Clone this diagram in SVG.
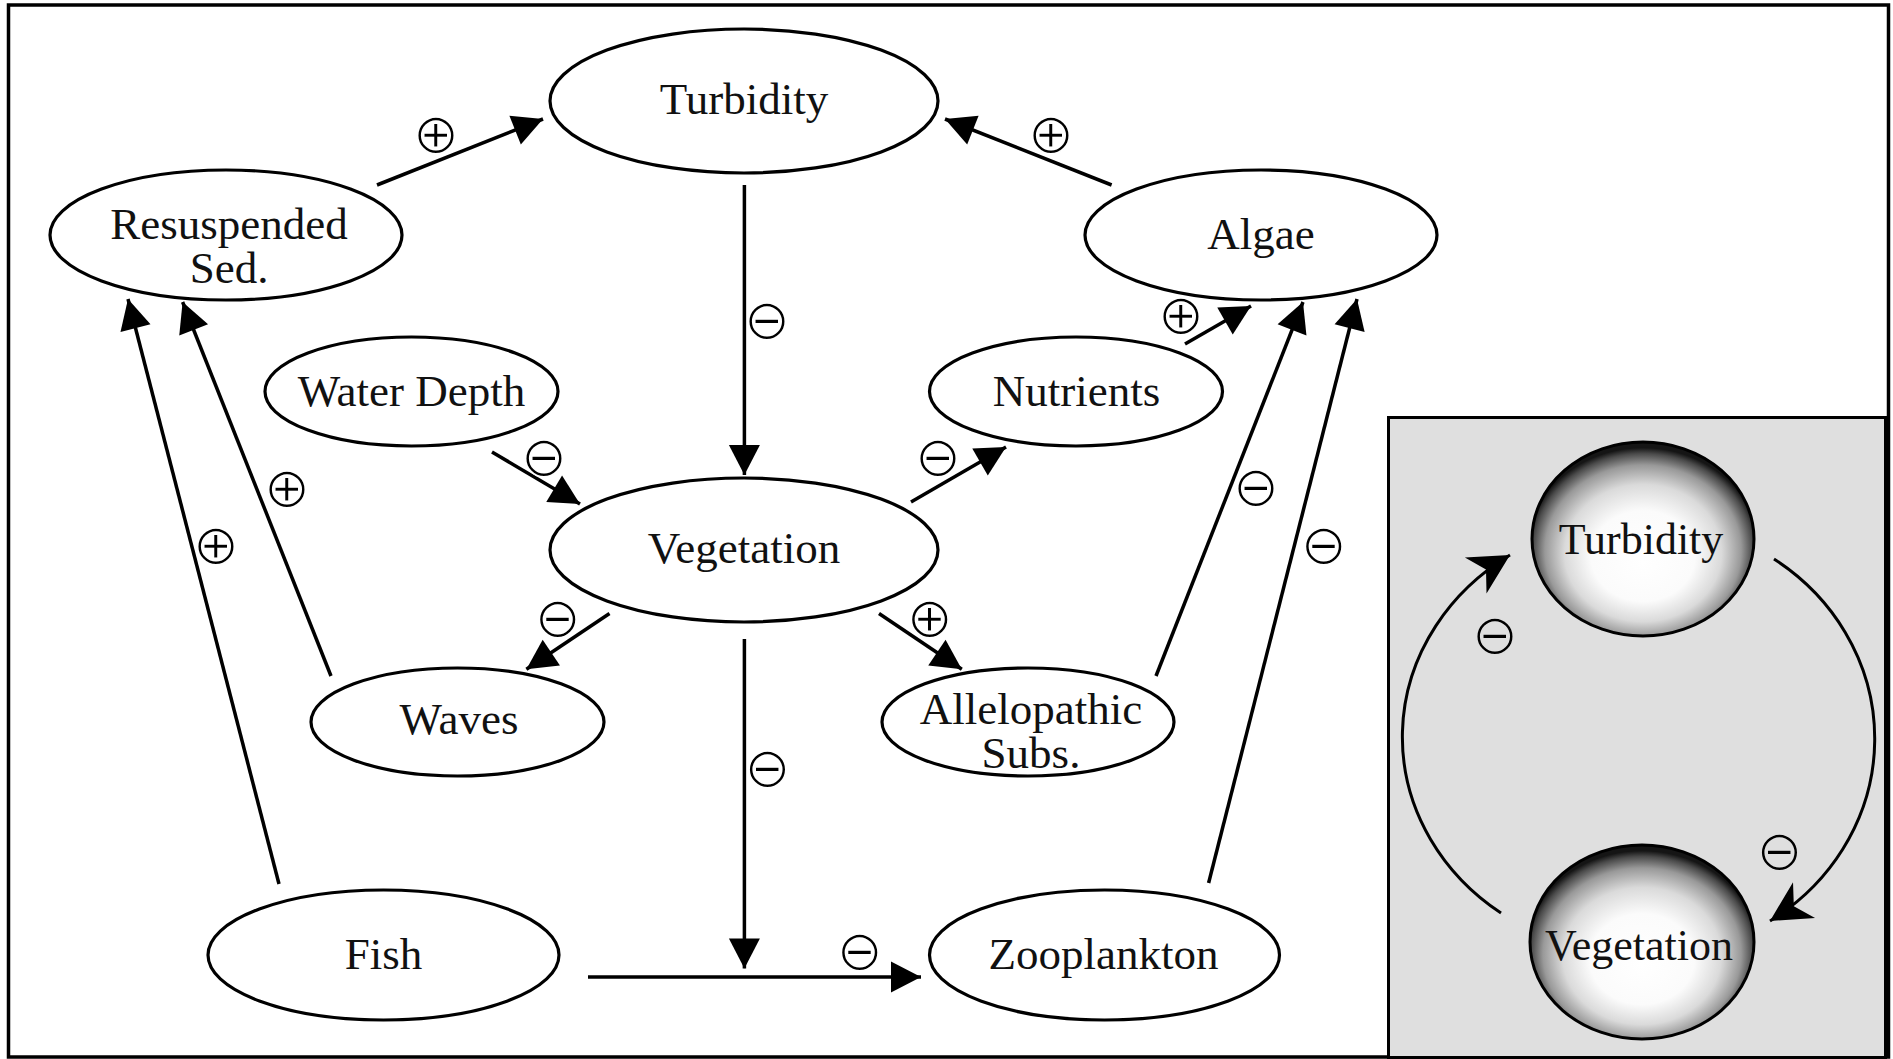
<svg xmlns="http://www.w3.org/2000/svg" width="1893" height="1059" viewBox="0 0 1893 1059">
<style>
.node{fill:#fff;stroke:#000;stroke-width:3.2}
.sphere{fill:url(#sph);stroke:#000;stroke-width:3}
.lbl{font-family:"Liberation Serif","Times New Roman",serif;font-size:45px;fill:#111;text-anchor:middle}
.ilbl{font-family:"Liberation Serif","Times New Roman",serif;font-size:44px;fill:#111;text-anchor:middle}
.edge{fill:none;stroke:#000;stroke-width:3.5;marker-end:url(#tri)}
.iedge{fill:none;stroke:#000;stroke-width:3;marker-end:url(#stealth)}
.sign{font-family:"DejaVu Sans",sans-serif;font-size:56px;fill:#000;text-anchor:middle;stroke:#fff;stroke-width:1.6}
.isign{stroke:#dfdfdf}
</style>
<defs>
<radialGradient id="sph" cx="50%" cy="55%" r="52%" fx="50%" fy="62%">
<stop offset="0" stop-color="#ffffff"/>
<stop offset="0.45" stop-color="#fbfbfb"/>
<stop offset="0.68" stop-color="#dadada"/>
<stop offset="0.85" stop-color="#999"/>
<stop offset="0.95" stop-color="#4a4a4a"/>
<stop offset="1" stop-color="#151515"/>
</radialGradient>
<marker id="tri" markerUnits="userSpaceOnUse" viewBox="-32 -17 34 34" refX="0" refY="0" markerWidth="34" markerHeight="34" orient="auto">
<path d="M0,0 L-30,-15.5 L-30,15.5 Z" fill="#000"/>
</marker>
<marker id="stealth" markerUnits="userSpaceOnUse" viewBox="-42 -24 44 48" refX="0" refY="0" markerWidth="44" markerHeight="48" orient="auto">
<path d="M0,0 L-40,-21 L-28,0 L-40,21 Z" fill="#000"/>
</marker>
</defs>
<rect x="0" y="0" width="1893" height="1059" fill="#fff"/>
<rect id="frame" x="8.5" y="5" width="1880" height="1052" fill="none" stroke="#000" stroke-width="3.5"/>
<g id="inset">
<rect x="1388.5" y="417.5" width="497" height="640" fill="#dfdfdf" stroke="#000" stroke-width="3"/>
</g>

<g id="connectors">
<path class="edge" d="M377,185 L543,119"/>
<path class="edge" d="M1111.6,185 L945,119"/>
<path class="edge" d="M744.4,185 L744.4,475"/>
<path class="edge" d="M492,452 L580,504"/>
<path class="edge" d="M911,502 L1006,447"/>
<path class="edge" d="M1185,344 L1251,306"/>
<path class="edge" d="M1156,676 L1303,302"/>
<path class="edge" d="M1208.6,883 L1357,299"/>
<path class="edge" d="M279,884 L128,299"/>
<path class="edge" d="M331,676 L182.6,302"/>
<path class="edge" d="M609.5,613.5 L526.4,669.3"/>
<path class="edge" d="M879,613.5 L961.8,669.3"/>
<path class="edge" d="M744.4,639 L744.4,968.5"/>
<path class="edge" d="M588,977 L921,977"/>
<path class="iedge" d="M1501,913 A240,218 0 0,1 1510,555"/>
<path class="iedge" d="M1774,559 A232,218 0 0,1 1770,921"/>
</g>
<g id="edge-labels">
<text class="sign" x="436" y="153">⊕</text>
<text class="sign" x="1051" y="153">⊕</text>
<text class="sign" x="767" y="339">⊖</text>
<text class="sign" x="544" y="476">⊖</text>
<text class="sign" x="938" y="476">⊖</text>
<text class="sign" x="1181" y="334">⊕</text>
<text class="sign" x="1256" y="506">⊖</text>
<text class="sign" x="1323.6" y="563.6">⊖</text>
<text class="sign" x="216" y="563.6">⊕</text>
<text class="sign" x="287" y="507">⊕</text>
<text class="sign" x="557.8" y="637">⊖</text>
<text class="sign" x="929.7" y="637">⊕</text>
<text class="sign" x="767.4" y="786.7">⊖</text>
<text class="sign" x="859.7" y="970.3">⊖</text>
<text class="sign isign" x="1495" y="654">⊖</text>
<text class="sign isign" x="1779.5" y="869.5">⊖</text>
</g>

<g id="node-turbidity"><ellipse class="node" cx="744" cy="101" rx="194" ry="72"/><text class="lbl" x="744" y="114">Turbidity</text></g>
<g id="node-resuspended"><ellipse class="node" cx="226" cy="235" rx="176" ry="65"/><text class="lbl" x="229" y="239">Resuspended</text><text class="lbl" x="229" y="283">Sed.</text></g>
<g id="node-algae"><ellipse class="node" cx="1261" cy="235" rx="176" ry="65"/><text class="lbl" x="1261" y="248.5">Algae</text></g>
<g id="node-waterdepth"><ellipse class="node" cx="411.5" cy="391.5" rx="146.5" ry="54.5"/><text class="lbl" x="411.5" y="406">Water Depth</text></g>
<g id="node-nutrients"><ellipse class="node" cx="1076" cy="391.5" rx="146.5" ry="54.5"/><text class="lbl" x="1076.5" y="406">Nutrients</text></g>
<g id="node-vegetation"><ellipse class="node" cx="744" cy="550" rx="194" ry="72"/><text class="lbl" x="744" y="563">Vegetation</text></g>
<g id="node-waves"><ellipse class="node" cx="457.5" cy="722" rx="146.5" ry="54"/><text class="lbl" x="459" y="734">Waves</text></g>
<g id="node-allelopathic"><ellipse class="node" cx="1028" cy="722" rx="146" ry="54"/><text class="lbl" x="1031" y="723.5">Allelopathic</text><text class="lbl" x="1031" y="768">Subs.</text></g>
<g id="node-fish"><ellipse class="node" cx="383.5" cy="955" rx="175.5" ry="65"/><text class="lbl" x="383.5" y="968.5">Fish</text></g>
<g id="node-zooplankton"><ellipse class="node" cx="1104.5" cy="955" rx="175" ry="65"/><text class="lbl" x="1103.5" y="968.5">Zooplankton</text></g>
<g id="inset-node-turbidity"><ellipse class="sphere" cx="1643" cy="539" rx="111" ry="97"/><text class="ilbl" x="1641" y="554">Turbidity</text></g>
<g id="inset-node-vegetation"><ellipse class="sphere" cx="1642" cy="942" rx="112" ry="97"/><text class="ilbl" x="1639" y="960">Vegetation</text></g>
</svg>
